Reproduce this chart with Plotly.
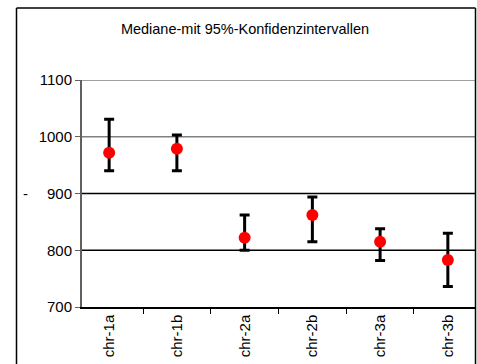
import plotly.graph_objects as go

categories = ["chr-1a", "chr-1b", "chr-2a", "chr-2b", "chr-3a", "chr-3b"]
median = [972, 979, 822, 862, 815, 783]
upper = [1031, 1003, 862, 894, 838, 830]
lower = [940, 940, 800, 815, 782, 736]
y_ticks = [700, 800, 900, 1000, 1100]
grid_colors = {800: "black", 900: "black", 1000: "#808080", 1100: "#808080"}

err_plus = [u - m for u, m in zip(upper, median)]
err_minus = [m - l for m, l in zip(median, lower)]

fig = go.Figure()
fig.add_trace(go.Scatter(
    x=categories, y=median, mode="markers",
    marker=dict(color="#ff0000", size=12, line=dict(width=0)),
    error_y=dict(type="data", symmetric=False, array=err_plus, arrayminus=err_minus,
                 color="black", thickness=3, width=5),
    showlegend=False,
))

L, R, T, B = 82, 2, 80, 57
W, H = 477, 364
pw = W - L - R
ph = H - T - B

def px_x(p):
    return (p - L) / pw

def px_y(p):
    return (H - B - p) / ph

shapes = []
for v in y_ticks[1:]:
    shapes.append(dict(type="line", xref="paper", yref="y", x0=0, x1=1, y0=v, y1=v,
                       line=dict(color=grid_colors[v], width=1.3), layer="below"))
# outer chart border (drawn as 3 visible edges)
bx0, bx1, by0, by1 = px_x(16.5), px_x(475.5), px_y(370), px_y(8)
for (x0, y0, x1, y1) in [(bx0, by0, bx0, by1), (bx0, by1, bx1, by1), (bx1, by1, bx1, by0)]:
    shapes.append(dict(type="line", xref="paper", yref="paper", x0=x0, y0=y0, x1=x1, y1=y1,
                       line=dict(color="black", width=1.5)))

fig.update_layout(
    width=W, height=H,
    margin=dict(l=L, r=R, t=T, b=B),
    paper_bgcolor="white", plot_bgcolor="white",
    font=dict(family="Liberation Sans, Arial", color="black"),
    title=dict(text="Mediane-mit 95%-Konfidenzintervallen", x=245 / W, xanchor="center",
               y=1 - 29 / H, yanchor="middle", font=dict(size=14.5)),
    xaxis=dict(type="category", tickangle=-90, tickson="boundaries", ticks="outside",
               ticklen=5, tickcolor="black", showline=True, linecolor="black", linewidth=1.5,
               showgrid=False, tickfont=dict(size=15)),
    yaxis=dict(range=[700, 1100], tickvals=y_ticks, ticks="outside", ticklen=5,
               tickcolor="#606060", showline=True, linecolor="#606060", linewidth=2,
               showgrid=False, zeroline=False, tickfont=dict(size=15)),
    shapes=shapes,
    annotations=[dict(text="-", xref="paper", yref="y", x=px_x(25), y=900,
                      showarrow=False, font=dict(size=15), xanchor="center", yanchor="middle")],
)

fig.write_html("out.html")
